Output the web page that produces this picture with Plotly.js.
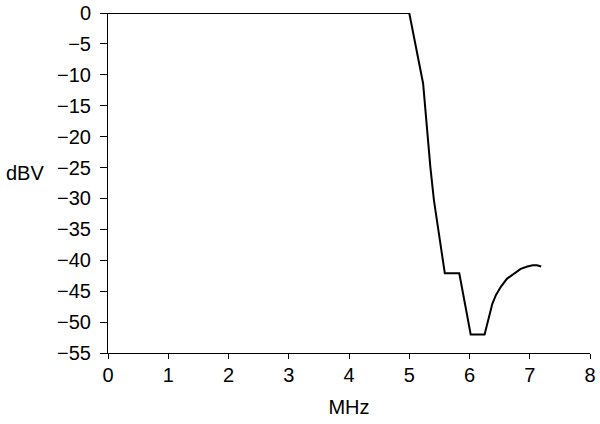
<!DOCTYPE html>
<html>
<head>
<meta charset="utf-8">
<script src="https://cdn.plot.ly/plotly-3.0.1.min.js"></script>
<style>html,body{margin:0;padding:0;background:#fff;}#chart{width:600px;height:424px;}</style>
</head>
<body>
<div id="chart"></div>
<script>
// Frequency (MHz) and response (dBV)
const freqMHz = [0, 5.0, 5.23, 5.30, 5.35, 5.41, 5.49, 5.59, 5.83, 6.02, 6.25, 6.29, 6.33, 6.38, 6.44, 6.52, 6.62, 6.74, 6.85, 6.96, 7.05, 7.12, 7.19];
const levelDBV = [0, 0, -11.4, -19.5, -24.9, -30.3, -35.6, -42.1, -42.1, -52.0, -52.0, -50.6, -48.8, -47.0, -45.6, -44.3, -43.0, -42.1, -41.4, -41.0, -40.8, -40.8, -41.0];
const xTicks = [0, 1, 2, 3, 4, 5, 6, 7, 8];
const yTicks = [0, -5, -10, -15, -20, -25, -30, -35, -40, -45, -50, -55];
const xTitle = 'MHz';
const yTitle = 'dBV';

const tickFont = {family: 'Liberation Sans, Arial, Helvetica, sans-serif', size: 20, color: '#000'};
const titleFont = {family: 'Liberation Sans, Arial, Helvetica, sans-serif', size: 20, color: '#000'};

Plotly.newPlot('chart', [{
  x: freqMHz,
  y: levelDBV,
  mode: 'lines',
  line: {color: '#000', width: 2, shape: 'linear'},
  cliponaxis: false,
  hoverinfo: 'skip'
}], {
  width: 600, height: 424,
  margin: {l: 108, r: 10, t: 13, b: 71},
  paper_bgcolor: '#fff', plot_bgcolor: '#fff',
  font: tickFont,
  showlegend: false,
  xaxis: {
    range: [0, 8], tickvals: xTicks, ticktext: xTicks.map(String),
    showgrid: false, zeroline: false, showline: true, linecolor: '#000', linewidth: 1,
    ticks: 'outside', ticklen: 5, tickcolor: '#000', tickwidth: 1,
    ticklabelstandoff: -1,
    tickfont: tickFont,
    title: {text: xTitle, font: titleFont, standoff: 14}
  },
  yaxis: {
    range: [-55, 0], tickvals: yTicks, ticktext: yTicks.map(v => v < 0 ? '\u2212' + Math.abs(v) : String(v)),
    showgrid: false, zeroline: false, showline: true, linecolor: '#000', linewidth: 1,
    ticks: 'outside', ticklen: 7, tickcolor: '#000', tickwidth: 1,
    ticklabelstandoff: 5,
    tickfont: tickFont
  },
  annotations: [{
    text: yTitle, xref: 'paper', yref: 'y', x: -0.172, y: -25.9,
    xanchor: 'center', yanchor: 'middle', showarrow: false, font: titleFont
  }]
}, {staticPlot: true, displayModeBar: false});
</script>
</body>
</html>
